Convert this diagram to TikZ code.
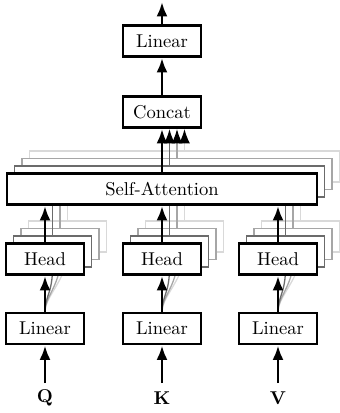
\documentclass[tikz,border=0pt]{standalone}
\usetikzlibrary{arrows.meta}
\begin{document}
\begin{tikzpicture}[x=0.5385pt,y=-0.5385pt,
  box/.style={draw, line width=1.5pt, fill=white, minimum width=42pt, minimum height=16.8pt, inner sep=0pt},
  widebox/.style={box, minimum width=167pt},
  ghost/.style={draw=#1, line width=0.9pt, fill=white, minimum width=42pt, minimum height=16.8pt, inner sep=0pt},
  ghostwide/.style={ghost=#1, minimum width=167pt},
  arr/.style={line width=1.5pt, -{Latex[length=7.8pt,width=6pt]}},
  garr/.style={draw=#1, line width=0.9pt, -{Latex[length=7.8pt,width=6pt,color=black]}},
  gline/.style={draw=#1, line width=0.9pt},
  gcurve/.style={draw=#1, line width=0.7pt}]
\useasboundingbox (0,0) rectangle (339,413);
% single boxes
\node[box] (lintop) at (162,41) {Linear};
\node[box] (concat) at (162,112) {Concat};
\node[box] (linq) at (45,328.5) {Linear};
\node[box] (link) at (162,328.5) {Linear};
\node[box] (linv) at (278,328.5) {Linear};
\node (q) at (45,398) {$\mathbf{Q}$};
\node (kk) at (162,398) {$\mathbf{K}$};
\node (v) at (278,398) {$\mathbf{V}$};
\coordinate (out) at (162,2);
\coordinate (inq) at (45,383);
\coordinate (ink) at (162,383);
\coordinate (inv) at (278,383);
% ghost layers
\foreach \k/\c in {3/black!15, 2/black!35, 1/black!58} {
  \begin{scope}[shift={(7.5*\k,-7.5*\k)}]
    \node[ghostwide=\c] (sa\k) at (162,189) {};
    \node[ghost=\c] (hq\k) at (45,259) {};
    \node[ghost=\c] (hk\k) at (162,259) {};
    \node[ghost=\c] (hv\k) at (278,259) {};
  \end{scope}
  \draw[gline=\c] (hq\k.north) -- (hq\k.north |- sa\k.south);
  \draw[gline=\c] (hk\k.north) -- (hk\k.north |- sa\k.south);
  \draw[gline=\c] (hv\k.north) -- (hv\k.north |- sa\k.south);
  \draw[garr=\c] (sa\k.north -| hk\k.north) -- (hk\k.north |- concat.south);
  \draw[gcurve=\c] (linq.north) .. controls +(0,-15) and +(0,25) .. (hq\k.south);
  \draw[gcurve=\c] (link.north) .. controls +(0,-15) and +(0,25) .. (hk\k.south);
  \draw[gcurve=\c] (linv.north) .. controls +(0,-15) and +(0,25) .. (hv\k.south);
}
% front layer
\node[widebox] (sa) at (162,189) {Self-Attention};
\node[box] (hq) at (45,259) {Head};
\node[box] (hk) at (162,259) {Head};
\node[box] (hv) at (278,259) {Head};
\draw[arr] (inq) -- (linq);
\draw[arr] (ink) -- (link);
\draw[arr] (inv) -- (linv);
\draw[arr] (linq) -- (hq);
\draw[arr] (link) -- (hk);
\draw[arr] (linv) -- (hv);
\draw[arr] (hq.north) -- (hq.north |- sa.south);
\draw[arr] (hk.north) -- (hk.north |- sa.south);
\draw[arr] (hv.north) -- (hv.north |- sa.south);
\draw[arr] (sa.north) -- (concat.south);
\draw[arr] (concat) -- (lintop);
\draw[arr] (lintop) -- (out);
\end{tikzpicture}
\end{document}
